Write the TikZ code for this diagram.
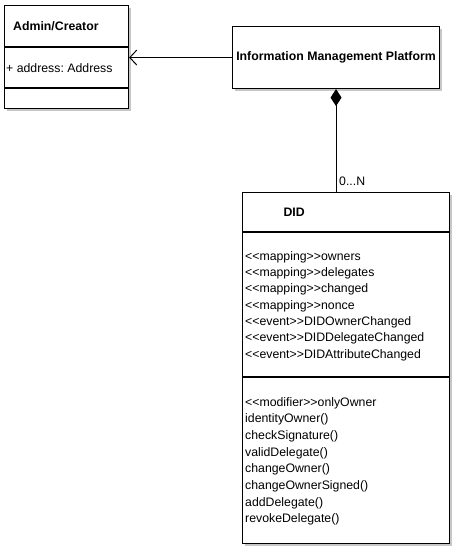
\documentclass[tikz,border=0pt]{standalone}
\usepackage{fontspec}
\setmainfont{Liberation Sans}
\usetikzlibrary{arrows.meta,shadows}
\newcommand\dlt{<\kern0pt<}
\newcommand\dgt{>\kern0pt>}
\frenchspacing
\begin{document}
\frenchspacing
\begin{tikzpicture}[x=1pt,y=-1pt,
  box/.style={draw, line width=1.1pt, fill=white, inner sep=0pt,
    drop shadow={shadow xshift=2.5pt, shadow yshift=-2.5pt, fill=black!22, opacity=1}},
  txt/.style={inner sep=0pt, anchor=base west, font=\fontsize{12.3}{14}\selectfont},
  bold/.style={txt, font=\fontsize{12.3}{14}\selectfont\bfseries},
  sep/.style={line width=1.1pt},
  conn/.style={line width=1pt}]
\useasboundingbox (0,0) rectangle (457,550);
% boxes
\node[box, minimum width=124pt, minimum height=103pt, anchor=north west] (admin) at (4,5) {};
\node[box, minimum width=207pt, minimum height=62pt, anchor=north west] (imp) at (232,26) {};
\node[box, minimum width=207pt, minimum height=351pt, anchor=north west] (did) at (242,192) {};
% separators
\draw[sep] (admin.west |- 0,47) -- (admin.east |- 0,47);
\draw[sep] (admin.west |- 0,88) -- (admin.east |- 0,88);
\draw[sep] (did.west |- 0,232) -- (did.east |- 0,232);
\draw[sep] (did.west |- 0,377) -- (did.east |- 0,377);
% texts
\node[bold] (admintitle) at (13,30.5) {Admin/Creator};
\node[txt] (adminattr) at (6,72.5) {+ address: Address};
\node[bold, anchor=center] (imptitle) at (imp.center) {Information Management Platform};
\node[bold] (didtitle) at (283.3,216.7) {DID};
\foreach \t [count=\i] in {\dlt mapping\dgt owners, \dlt mapping\dgt delegates,
  \dlt mapping\dgt changed, \dlt mapping\dgt nonce, \dlt event\dgt DIDOwnerChanged,
  \dlt event\dgt DIDDelegateChanged, \dlt event\dgt DIDAttributeChanged}
  \node[txt] (attr\i) at (245,{260+16.35*(\i-1)}) {\t};
\foreach \t [count=\i] in {\dlt modifier\dgt onlyOwner, identityOwner(), checkSignature(),
  validDelegate(), changeOwner(), changeOwnerSigned(), addDelegate(), revokeDelegate()}
  \node[txt] (meth\i) at (245,{406+16.67*(\i-1)}) {\t};
% connectors
\draw[conn, -{Straight Barb[length=7pt,width=15pt,line width=1pt]}] (imp.west) -- (admin.east |- imp.west);
\draw[conn, {Diamond[length=17pt,width=11pt]}-] (imp.south) -- (imp.south |- did.north);
\node[txt] (mult) at (339,185) {0...N};
\end{tikzpicture}
\end{document}
